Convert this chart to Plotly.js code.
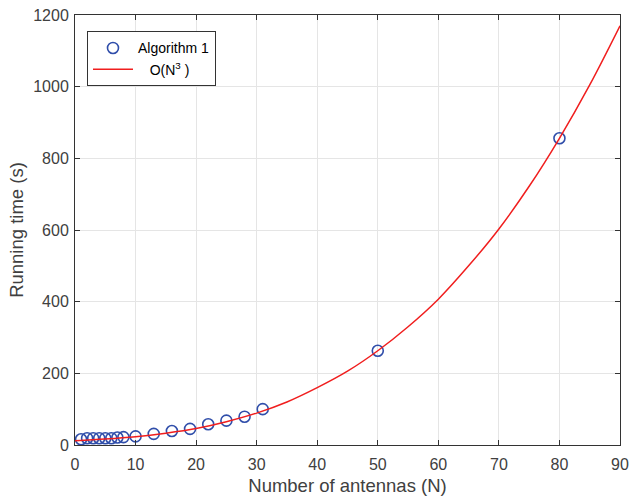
<!DOCTYPE html>
<html>
<head>
<meta charset="utf-8">
<script src="https://cdn.plot.ly/plotly-3.0.1.min.js"></script>
<style>html,body{margin:0;padding:0;background:#fff;}#chart{width:629px;height:502px;}</style>
</head>
<body>
<div id="chart"></div>
<script>
// Measured points (Algorithm 1)
const antennas = [1, 2, 3, 4, 5, 6, 7, 8, 10, 13, 16, 19, 22, 25, 28, 31, 50, 80];
const runtime = [16, 19, 19, 19, 19, 19, 21, 22, 24, 31, 39, 45, 58, 68, 79, 100, 263, 856];
// O(N^3) reference curve
const curveN = [0, 5, 10, 15, 20, 25, 30, 35, 40, 45, 50, 55, 60, 65, 70, 75, 80, 85, 90];
const curveT = [12, 16.5, 23, 33, 46, 65, 89, 120, 160, 206, 263, 330, 407, 500, 603, 722, 856, 1005, 1170];
const xTicks = [0, 10, 20, 30, 40, 50, 60, 70, 80, 90];
const yTicks = [0, 200, 400, 600, 800, 1000, 1200];

const textColor = '#404040';
const fontFam = '"Liberation Sans", Arial, Helvetica, sans-serif';

const traces = [
  {
    x: antennas, y: runtime, type: 'scatter', mode: 'markers', name: 'Algorithm 1',
    marker: {symbol: 'circle-open', size: 11, color: 'rgb(48,78,170)', line: {width: 1.6, color: 'rgb(48,78,170)'}}
  },
  {
    x: curveN, y: curveT, type: 'scatter', mode: 'lines', name: '   O(N<sup>3</sup> )',
    line: {color: 'rgb(240,30,30)', width: 1.5, shape: 'spline'}
  }
];

const axisCommon = {
  showline: true, linecolor: '#333333', linewidth: 1, mirror: 'ticks',
  ticks: 'inside', ticklen: 5, tickcolor: '#333333', tickwidth: 1,
  showgrid: true, gridcolor: '#e5e5e5', gridwidth: 1, zeroline: false,
  tickfont: {family: fontFam, size: 16, color: textColor}
};

const layout = {
  width: 629, height: 502,
  margin: {l: 75, r: 9, t: 15, b: 57},
  paper_bgcolor: '#fff', plot_bgcolor: '#fff',
  font: {family: fontFam, color: textColor},
  showlegend: true,
  xaxis: Object.assign({}, axisCommon, {
    range: [0, 90], tickvals: xTicks, ticktext: xTicks.map(String),
    ticklabelstandoff: 5,
    title: {text: 'Number of antennas (N)', font: {family: fontFam, size: 18.5, color: textColor}, standoff: 6}
  }),
  yaxis: Object.assign({}, axisCommon, {
    range: [0, 1200], tickvals: yTicks, ticktext: yTicks.map(String),
    ticklabelstandoff: 2,
    title: {text: 'Running time (s)', font: {family: fontFam, size: 18.5, color: textColor}, standoff: 4}
  }),
  legend: {
    x: 0.022, y: 0.962, xanchor: 'left', yanchor: 'top',
    bgcolor: '#fff', bordercolor: '#333333', borderwidth: 1,
    font: {family: fontFam, size: 14, color: '#000'},
    itemwidth: 40, tracegroupgap: 0
  }
};

Plotly.newPlot('chart', traces, layout, {displayModeBar: false, staticPlot: true});
</script>
</body>
</html>
